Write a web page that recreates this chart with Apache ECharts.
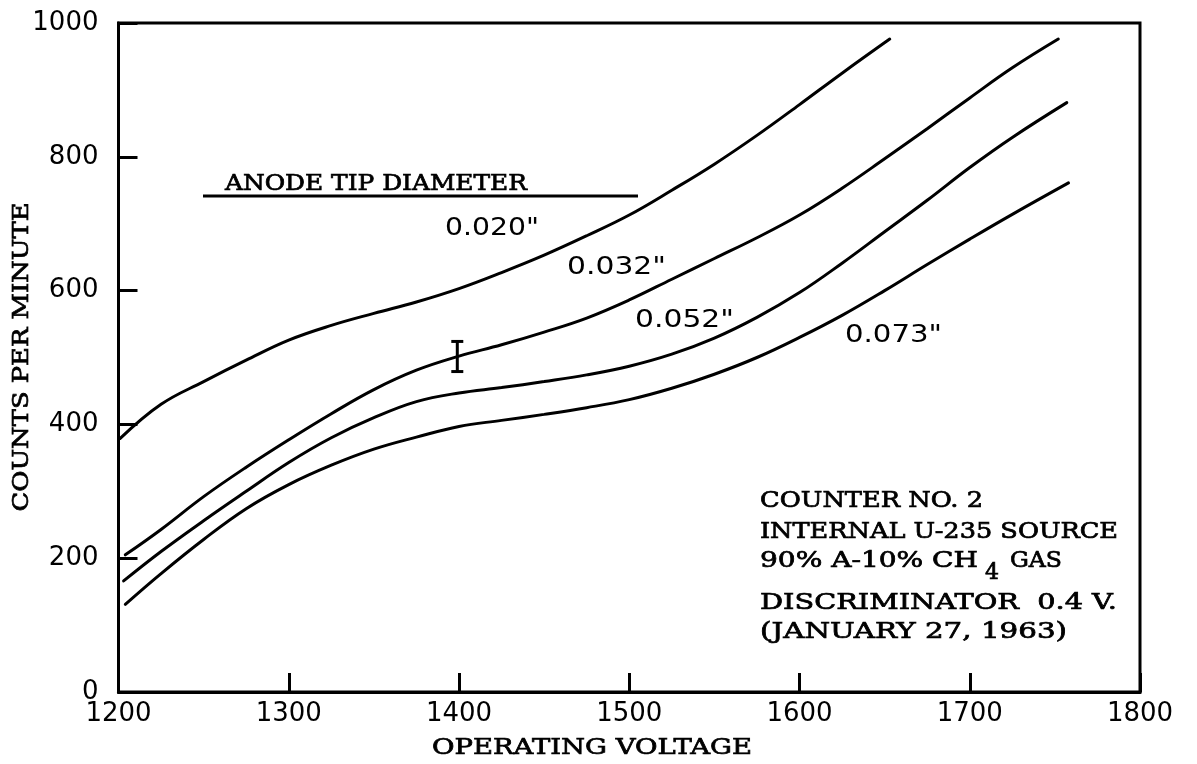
<!DOCTYPE html>
<html>
<head>
<meta charset="utf-8">
<script src="https://cdn.jsdelivr.net/npm/echarts@6/dist/echarts.min.js"></script>
<style>
  html, body { margin: 0; padding: 0; background: #fff; }
  #chart { width: 1197px; height: 764px; }
</style>
</head>
<body>
<div id="chart"></div>
<script>
// Counting-rate plateaus for four anode tip diameters
const xTicks = [1200, 1300, 1400, 1500, 1600, 1700, 1800];
const yTicks = [0, 200, 400, 600, 800, 1000];

const volts020 = [1201, 1225, 1250, 1275, 1300, 1325, 1350, 1375, 1400, 1425, 1450, 1475, 1500, 1525, 1550, 1575, 1600, 1625, 1653];
const counts020 = [379, 430, 464, 496, 526, 548, 566, 583, 603, 627, 653, 682, 713, 750, 789, 832, 878, 925, 976];

const volts032 = [1204, 1225, 1250, 1275, 1300, 1325, 1350, 1375, 1400, 1425, 1450, 1475, 1500, 1525, 1550, 1575, 1600, 1625, 1650, 1675, 1700, 1725, 1752];
const counts032 = [205, 243, 292, 336, 377, 416, 452, 481, 502, 519, 538, 559, 586, 617, 648, 679, 713, 753, 797, 842, 888, 933, 976];

const volts052 = [1203, 1225, 1250, 1275, 1300, 1325, 1350, 1375, 1400, 1425, 1450, 1475, 1500, 1525, 1550, 1575, 1600, 1625, 1650, 1675, 1700, 1725, 1757];
const counts052 = [166, 210, 256, 300, 343, 380, 410, 434, 447, 455, 464, 474, 487, 505, 529, 560, 597, 641, 688, 735, 784, 829, 881];

const volts073 = [1204, 1225, 1250, 1275, 1300, 1325, 1350, 1375, 1400, 1425, 1450, 1475, 1500, 1525, 1550, 1575, 1600, 1625, 1650, 1675, 1700, 1725, 1758];
const counts073 = [131, 177, 228, 274, 310, 339, 363, 381, 397, 406, 415, 425, 437, 454, 475, 500, 530, 563, 600, 639, 677, 714, 761];

// statistical spread at one operating point: [voltage, low, high]
const errorBar = [[1399, 479, 524]];

const diameters = ['0.020"', '0.032"', '0.052"', '0.073"'];
const infoLines = ['COUNTER NO. 2', 'INTERNAL U-235 SOURCE', '90% A-10% CH', '4', 'GAS', 'DISCRIMINATOR  0.4 V.', '(JANUARY 27, 1963)'];

const zip = (xs, ys) => xs.map((x, i) => [x, ys[i]]);

const TYPE = '"DejaVu Serif", "Liberation Serif", serif';
const LETTER = '"DejaVu Sans", sans-serif';

function curve(name, xs, ys) {
  return {
    name, type: 'line', data: zip(xs, ys), smooth: 0.4, showSymbol: false,
    lineStyle: { color: '#000', width: 3, cap: 'round' }, silent: true, z: 3
  };
}

// text measuring, used to stretch a label to a set run length
const measureCtx = document.createElement('canvas').getContext('2d');
function textWidth(text, family, size) {
  measureCtx.font = size + 'px ' + family;
  return measureCtx.measureText(text).width;
}

// text scaled horizontally so it spans `width` pixels
function fitted(text, x, y, family, size, width, align, extra, heavy) {
  const sx = width ? width / textWidth(text, family, size) : 1;
  const style = {
    text, fill: '#000', fontFamily: family, fontSize: size,
    textAlign: align || 'left', textVerticalAlign: 'middle'
  };
  if (heavy) { style.stroke = '#000'; style.lineWidth = heavy; }
  return Object.assign({ type: 'text', x, y, scaleX: sx, style }, extra || {});
}

// typewritten lettering
const typed = (text, x, y, width, align, extra) => fitted(text, x, y, TYPE, 22, width, align, extra, 0.7);

const chart = echarts.init(document.getElementById('chart'), null, { renderer: 'canvas' });

chart.setOption({
  animation: false,
  backgroundColor: '#fff',
  grid: { left: 118.5, right: 57, top: 23, bottom: 72, show: true, borderColor: '#000', borderWidth: 3 },
  xAxis: {
    type: 'value', min: xTicks[0], max: xTicks[xTicks.length - 1], interval: 100,
    axisLine: { lineStyle: { color: '#000', width: 3 } },
    axisTick: { inside: true, length: 19, lineStyle: { color: '#000', width: 3 } },
    axisLabel: { color: '#000', fontFamily: LETTER, fontSize: 26, margin: 9, formatter: v => String(v) },
    splitLine: { show: false }
  },
  yAxis: {
    type: 'value', min: yTicks[0], max: yTicks[yTicks.length - 1], interval: 200,
    axisLine: { lineStyle: { color: '#000', width: 3 } },
    axisTick: { inside: true, length: 19, lineStyle: { color: '#000', width: 3 } },
    axisLabel: { color: '#000', fontFamily: LETTER, fontSize: 26, margin: 20, formatter: v => String(v) },
    splitLine: { show: false }
  },
  series: [
    curve(diameters[0], volts020, counts020),
    curve(diameters[1], volts032, counts032),
    curve(diameters[2], volts052, counts052),
    curve(diameters[3], volts073, counts073),
    {
      type: 'custom', data: errorBar, silent: true, z: 4,
      renderItem(params, api) {
        const x = api.value(0);
        const top = api.coord([x, api.value(2)]);
        const bot = api.coord([x, api.value(1)]);
        const st = { stroke: '#000', lineWidth: 3 };
        return {
          type: 'group', children: [
            { type: 'line', shape: { x1: top[0], y1: top[1], x2: bot[0], y2: bot[1] }, style: st },
            { type: 'line', shape: { x1: top[0] - 6, y1: top[1], x2: top[0] + 6, y2: top[1] }, style: st },
            { type: 'line', shape: { x1: bot[0] - 6, y1: bot[1], x2: bot[0] + 6, y2: bot[1] }, style: st }
          ]
        };
      }
    }
  ],
  graphic: [
    // axis titles
    typed('OPERATING VOLTAGE', 592, 748, 320, 'center'),
    typed('COUNTS PER MINUTE', 22, 357, 309, 'center', { rotation: Math.PI / 2 }),
    // legend heading
    typed('ANODE TIP DIAMETER', 225, 184, 302),
    { type: 'line', shape: { x1: 203, y1: 196, x2: 638, y2: 196 }, style: { stroke: '#000', lineWidth: 3 } },
    // curve labels
    fitted(diameters[0], 445, 229, LETTER, 24, 94),
    fitted(diameters[1], 567, 268, LETTER, 24, 99),
    fitted(diameters[2], 635, 321, LETTER, 24, 99),
    fitted(diameters[3], 845, 336, LETTER, 24, 97),
    // run conditions
    typed(infoLines[0], 760, 501, 223),
    typed(infoLines[1], 760, 532, 358),
    typed(infoLines[2], 760, 561, 218),
    typed(infoLines[3], 985, 573, 0),
    typed(infoLines[4], 1010, 561, 52),
    typed(infoLines[5], 760, 603, 357),
    typed(infoLines[6], 760, 632, 307)
  ]
});
</script>
</body>
</html>
